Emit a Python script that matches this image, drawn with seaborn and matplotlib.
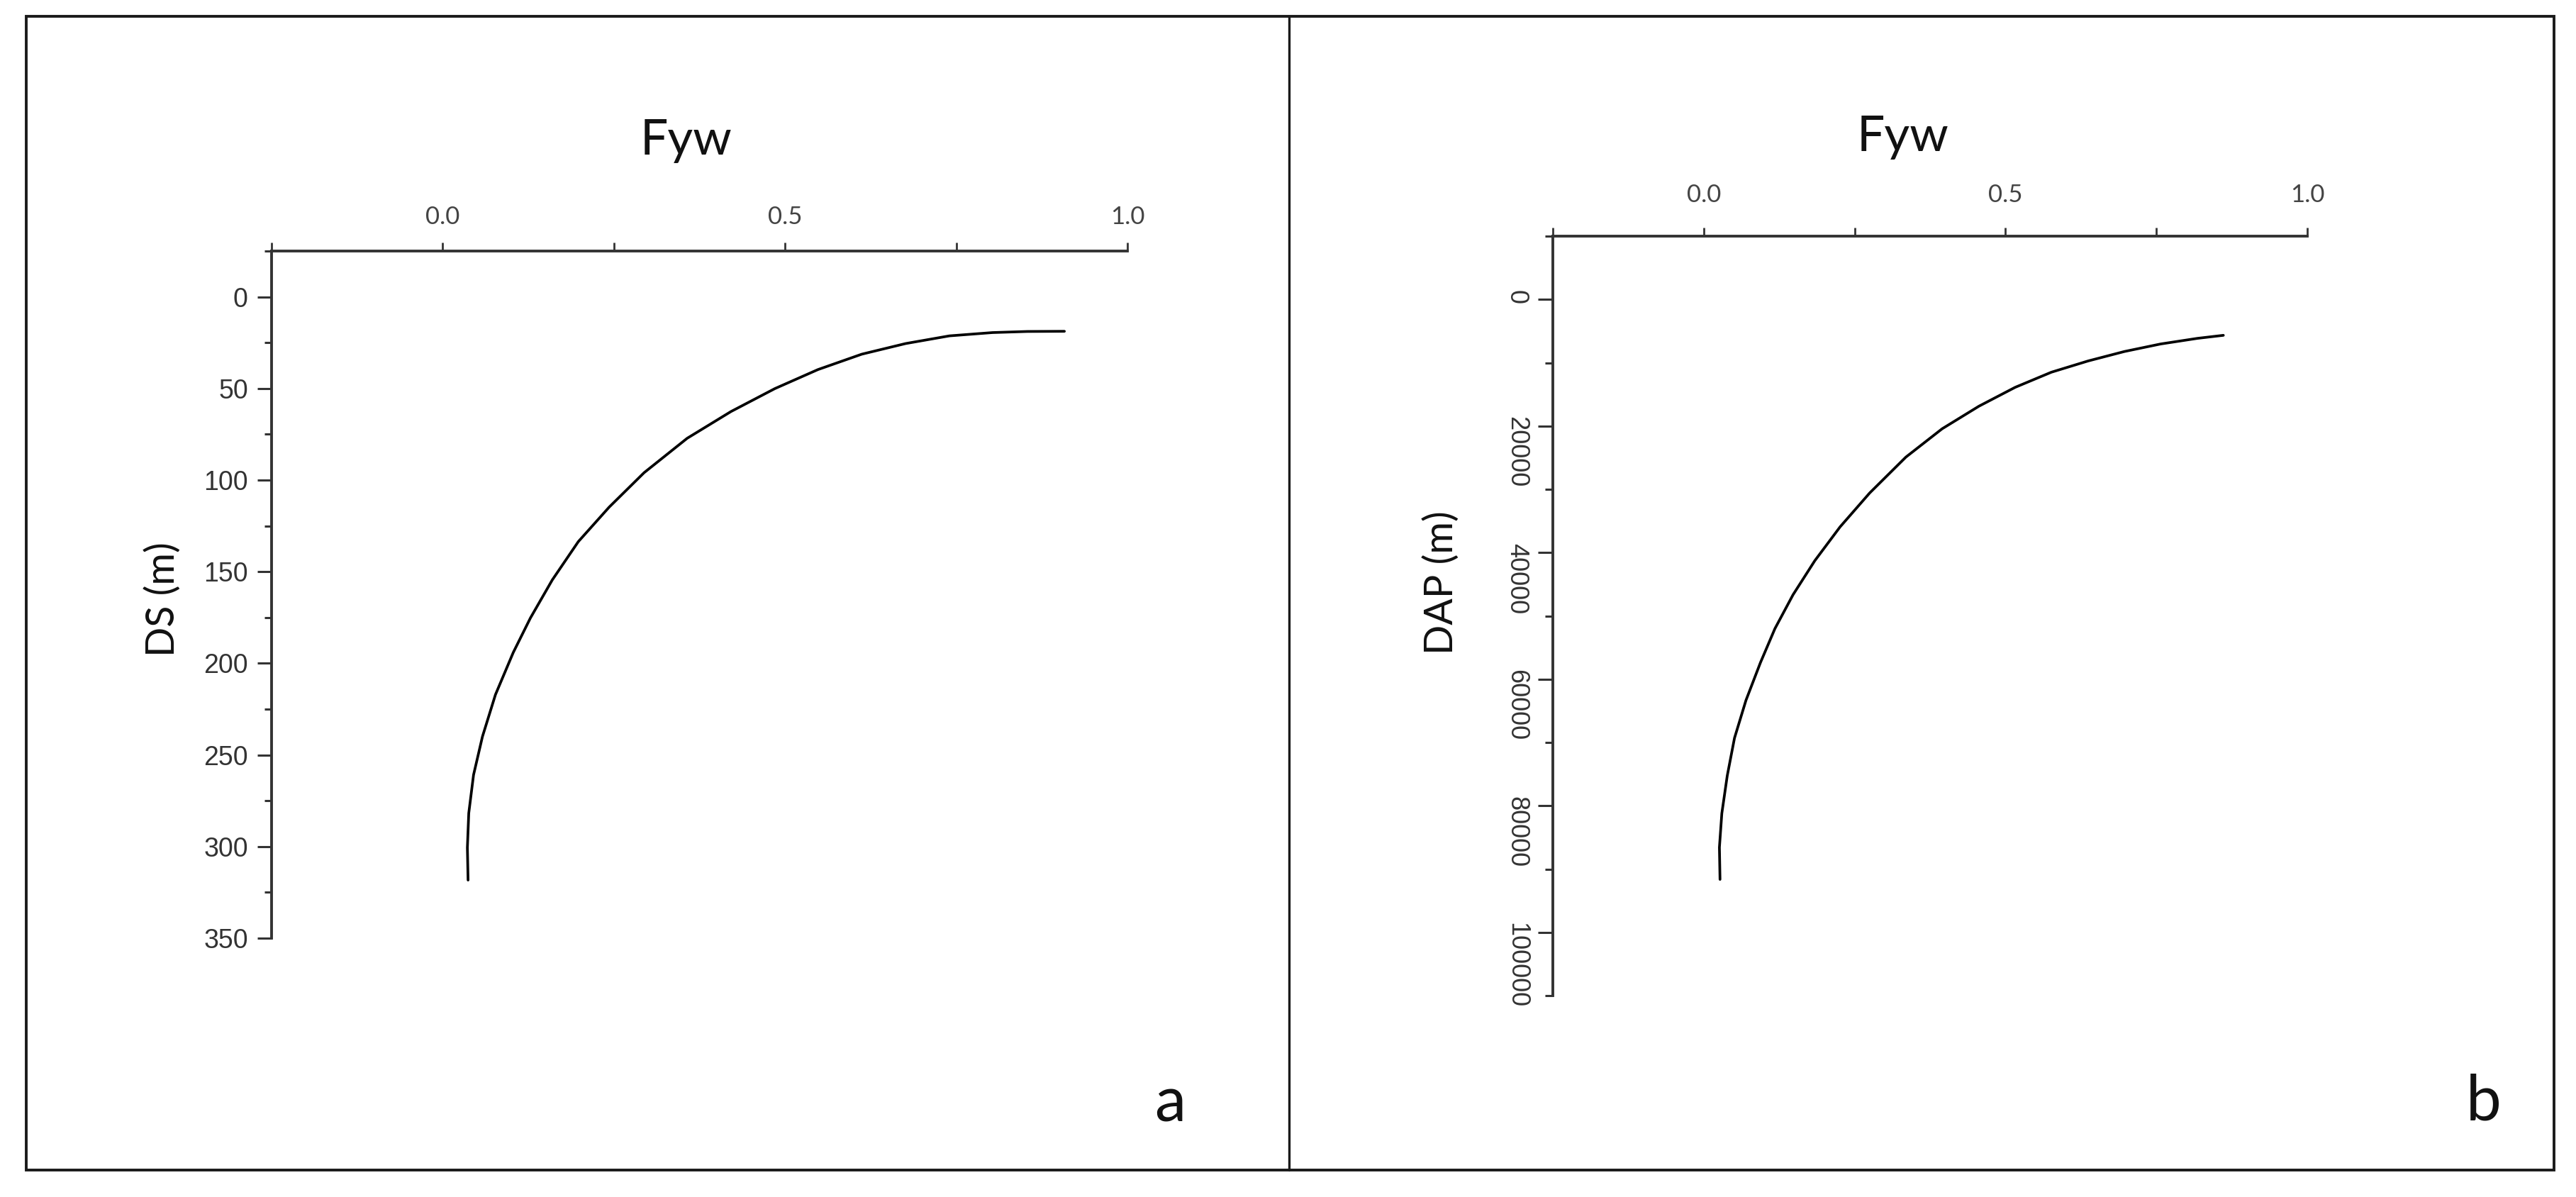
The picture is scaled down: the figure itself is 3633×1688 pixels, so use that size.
import pandas as pd
import seaborn as sns
import matplotlib.pyplot as plt
from matplotlib import font_manager
from matplotlib.lines import Line2D
from matplotlib.patches import Rectangle
from matplotlib.ticker import FixedLocator, NullFormatter

# panel a: Fyw against DS (m)
fyw_a = [0.908, 0.854, 0.803, 0.740, 0.676, 0.612, 0.548, 0.485, 0.421, 0.357, 0.294,
         0.243, 0.198, 0.160, 0.128, 0.103, 0.077, 0.058, 0.045, 0.038, 0.036, 0.037]
ds_a = [18.8, 18.9, 19.5, 21.3, 25.5, 31.3, 39.7, 50.1, 62.6, 77.2, 96.0,
        114.8, 133.6, 154.5, 175.3, 194.1, 217.1, 240.0, 260.9, 281.8, 300.6, 318.3]

# panel b: Fyw against DAP (m)
fyw_b = [0.861, 0.818, 0.757, 0.697, 0.637, 0.576, 0.516, 0.456, 0.395, 0.335, 0.275,
         0.226, 0.184, 0.148, 0.118, 0.094, 0.070, 0.051, 0.039, 0.030, 0.026, 0.027]
dap_b = [5670, 6150, 7040, 8230, 9720, 11500, 13890, 16870, 20440, 24910, 30580,
         35930, 41290, 46660, 52010, 57380, 63340, 69300, 75250, 81210, 86580, 91640]

fyw_major = [0.0, 0.5, 1.0]
fyw_minor = [-0.25, 0.25, 0.75]
ds_major = [0, 50, 100, 150, 200, 250, 300, 350]
ds_minor = [-25, 25, 75, 125, 175, 225, 275, 325]
dap_major = [0, 20000, 40000, 60000, 80000, 100000]
dap_minor = [-10000, 10000, 30000, 50000, 70000, 90000, 110000]

sns.set_style("white")
installed = {f.name for f in font_manager.fontManager.ttflist}
narrow = "Liberation Sans Narrow" if "Liberation Sans Narrow" in installed else "Liberation Sans"
narrow_size = 31 if narrow == "Liberation Sans Narrow" else 26
plt.rcParams['font.family'] = ['Lato', 'DejaVu Sans']

ink = '#333333'
W, H = 3633, 1688
fig = plt.figure(figsize=(W / 100, H / 100), dpi=100)


def px_axes(x0, y0, x1, y1):
    # pixel box (top-left, bottom-right) -> figure fraction rect
    return [x0 / W, 1 - y1 / H, (x1 - x0) / W, (y1 - y0) / H]


ax_a = fig.add_axes(px_axes(383, 354, 1590, 1323))
ax_b = fig.add_axes(px_axes(2190, 333, 3254, 1404))

df_a = pd.DataFrame({'Fyw': fyw_a, 'DS (m)': ds_a})
df_b = pd.DataFrame({'Fyw': fyw_b, 'DAP (m)': dap_b})

sns.lineplot(data=df_a, x='Fyw', y='DS (m)', sort=False, estimator=None,
             color='black', lw=2.7, ax=ax_a)
sns.lineplot(data=df_b, x='Fyw', y='DAP (m)', sort=False, estimator=None,
             color='black', lw=2.7, ax=ax_b)


def style(ax, ylim, ymaj, ymin, xpad, ylen, ylabel_kw):
    ax.set_xlim(-0.25, 1.0)
    ax.set_ylim(*ylim)
    for side in ['bottom', 'right']:
        ax.spines[side].set_visible(False)
    for side in ['top', 'left']:
        ax.spines[side].set_linewidth(2.8)
        ax.spines[side].set_color(ink)
    ax.xaxis.tick_top()
    ax.xaxis.set_major_locator(FixedLocator(fyw_major))
    ax.xaxis.set_minor_locator(FixedLocator(fyw_minor))
    ax.set_xticklabels(['0.0', '0.5', '1.0'], fontsize=25, color='#444444')
    ax.xaxis.set_minor_formatter(NullFormatter())
    ax.tick_params(axis='x', which='both', top=True, bottom=False, direction='out',
                   length=8.6, width=2.0, color=ink, pad=xpad)
    ax.yaxis.set_major_locator(FixedLocator(ymaj))
    ax.yaxis.set_minor_locator(FixedLocator(ymin))
    ax.yaxis.set_minor_formatter(NullFormatter())
    ax.tick_params(axis='y', which='major', left=True, right=False, direction='out',
                   length=ylen[0], width=2.2, color=ink, pad=9.5)
    ax.tick_params(axis='y', which='minor', left=True, right=False, direction='out',
                   length=ylen[1], width=2.2, color=ink)
    ax.set_yticklabels([str(v) for v in ymaj], color='#333333', **ylabel_kw)
    ax.grid(False)


style(ax_a, (350, -25), ds_major, ds_minor, 14.4, (14.4, 7.2),
      dict(family='Liberation Sans', fontsize=27))
style(ax_b, (110000, -10000), dap_major, dap_minor, 21.6, (15, 8),
      dict(family=narrow, fontsize=narrow_size, rotation=-90))

# axis titles
for ax, lab, xy_x, xy_y in [(ax_a, 'DS (m)', -0.1268, 0.493), (ax_b, 'DAP (m)', -0.1476, 0.544)]:
    ax.set_ylabel(lab, fontsize=40, va='center', color='#111111')
    ax.yaxis.set_label_coords(xy_x, xy_y)
for ax, xy_x, xy_y in [(ax_a, 0.4847, 1.1403), (ax_b, 0.4643, 1.1120)]:
    ax.xaxis.set_label_position('top')
    ax.set_xlabel('Fyw', fontsize=50, va='baseline', color='#111111')
    ax.xaxis.set_label_coords(xy_x, xy_y)

# panel letters
fig.text(1650 / W, 1 - 1582 / H, 'a', fontsize=64, ha='center', va='baseline', color='#111111')
fig.text(3503 / W, 1 - 1580 / H, 'b', fontsize=64, ha='center', va='baseline', color='#111111')

# outer frame and divider
fig.add_artist(Rectangle((37 / W, 1 - 1650 / H), (3602 - 37) / W, (1650 - 23) / H,
                         transform=fig.transFigure, fill=False, lw=2.8, ec='#1a1a1a'))
fig.add_artist(Line2D([1818 / W, 1818 / W], [1 - 1650 / H, 1 - 23 / H],
                      transform=fig.transFigure, lw=2.4, color='#1a1a1a'))

fig.savefig('out.png', dpi=100, facecolor='white')
